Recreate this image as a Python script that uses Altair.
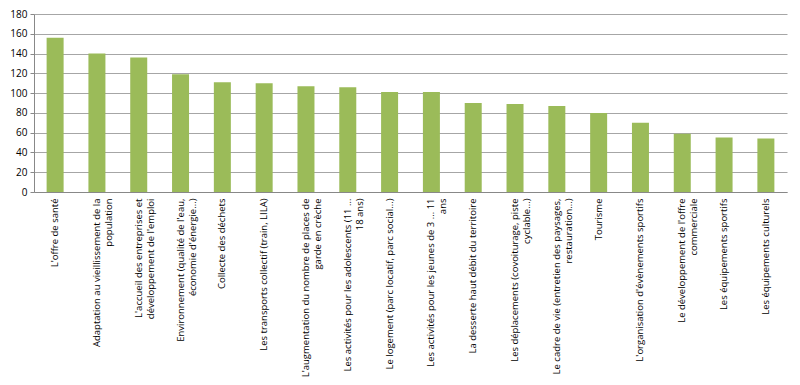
import altair as alt
import pandas as pd

categories = [
    "L'offre de santé",
    "Adaptation au vieillissement de la|population",
    "L'accueil des entreprises et|développement de l'emploi",
    "Environnement (qualité de l'eau,|économie d'énergie...)",
    "Collecte des déchets",
    "Les transports collectif (train, LILA)",
    "L'augmentation du nombre de places de|garde en crèche",
    "Les activités pour les adolescents (11 ...|18 ans)",
    "Le logement (parc locatif, parc social...)",
    "Les activités pour les jeunes de 3 ... 11|ans",
    "La desserte haut débit du territoire",
    "Les déplacements (covoiturage, piste|cyclable...)",
    "Le cadre de vie (entretien des paysages,|restauration...)",
    "Tourisme",
    "L'organisation d'évènements sportifs",
    "Le développement de l'offre|commerciale",
    "Les équipements sportifs",
    "Les équipements culturels",
]
values = [156, 140, 136, 119, 111, 110, 107, 106, 101, 101, 90, 89, 87, 80, 70, 59, 55, 54]
y_ticks = [0, 20, 40, 60, 80, 100, 120, 140, 160, 180]

df = pd.DataFrame({"cat": categories, "val": values})

chart = alt.Chart(df).mark_bar(color="#9BBB59", size=17).encode(
    x=alt.X("cat:N", sort=categories, title=None,
            scale=alt.Scale(paddingInner=0.59, paddingOuter=0.3),
            axis=alt.Axis(labelAngle=-90, labelAlign="right", labelBaseline="middle",
                          labelExpr="split(datum.label, '|')", labelLimit=300,
                          labelFont="Open Sans", labelFontSize=9.5, labelColor="#000",
                          labelPadding=6, ticks=False, domainColor="#888",
                          labelLineHeight=12)),
    y=alt.Y("val:Q", title=None,
            scale=alt.Scale(domain=[0, 180]),
            axis=alt.Axis(values=y_ticks, labelFont="Open Sans", labelFontSize=10,
                          labelColor="#000", gridColor="#a6a6a6", domainColor="#888",
                          tickColor="#888", tickSize=4, labelPadding=3)),
).properties(
    width=753, height=178,
    autosize=alt.AutoSizeParams(type="none"),
    padding={"left": 26, "top": 6, "right": 5, "bottom": 188},
).configure_view(stroke=None)

chart.save("out.html", embed_options={"renderer": "svg", "actions": False})
